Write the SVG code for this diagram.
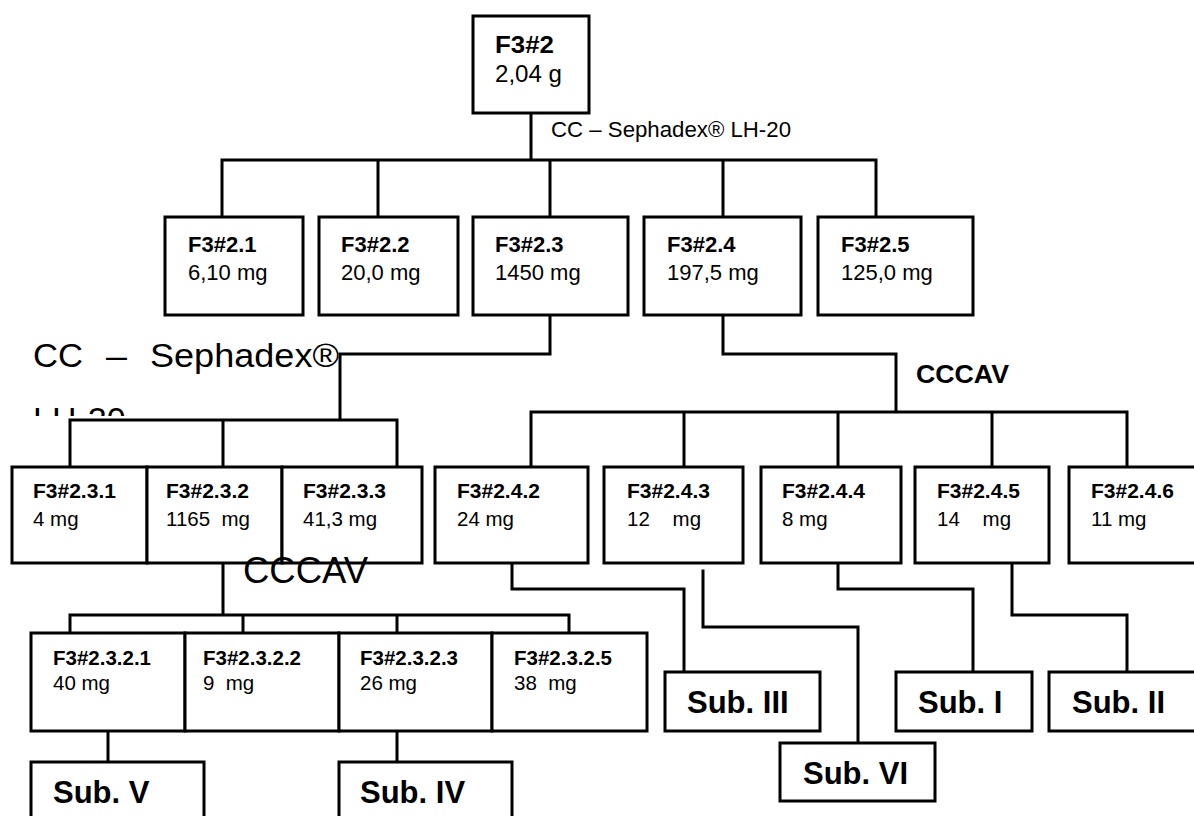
<svg xmlns="http://www.w3.org/2000/svg" width="1194" height="816" viewBox="0 0 1194 816">
<style>
  .box{fill:#fff;stroke:#000;stroke-width:3}
  .ln{fill:none;stroke:#000;stroke-width:3;stroke-linejoin:miter;stroke-linecap:square}
  text{font-family:"Liberation Sans",Arial,sans-serif;fill:#000;white-space:pre}
  .b22{font-weight:bold;font-size:22px}
  .r22{font-size:22px}
  .b21{font-weight:bold;font-size:21px}
  .r20{font-size:20.5px}
  .sub{font-weight:bold;font-size:31px}
  .big{font-size:34px}
</style>
<defs>
  <clipPath id="clipLH"><rect x="0" y="380" width="300" height="36"/></clipPath>
</defs>
<rect width="1194" height="816" fill="#fff"/>

<g id="connectors">
  <path class="ln" d="M531,113 V160 M222,160 H876 M222,160 V217 M378,160 V217 M550,160 V217 M723,160 V217 M876,160 V217"/>
  <path class="ln" d="M550,315 V354 H340 V420 M70,420 H397 M70,420 V467 M223,420 V467 M397,420 V467"/>
  <path class="ln" d="M723,315 V354 H896 V412 M531,412 H1127 M531,412 V467 M684,412 V467 M838,412 V467 M992,412 V467 M1127,412 V467"/>
  <path class="ln" d="M223,557 V615 M70,615 H569 M70,615 V633 M243,615 V633 M397,615 V633 M569,615 V633"/>
  <path class="ln" d="M108,731 V762 M397,731 V762"/>
  <path class="ln" d="M512,558 V589 H684 V672"/>
  <path class="ln" d="M703,571 V627 H858 V743"/>
  <path class="ln" d="M838,558 V589 H973 V672"/>
  <path class="ln" d="M1012,558 V615 H1127 V672"/>
</g>

<g id="label-cc1"><text class="r22" x="551" y="137" textLength="240" lengthAdjust="spacingAndGlyphs">CC – Sephadex® LH-20</text></g>
<g id="label-cc2">
  <text class="big" x="33" y="367" textLength="50" lengthAdjust="spacingAndGlyphs">CC</text>
  <text class="big" x="106" y="367" textLength="21" lengthAdjust="spacingAndGlyphs">–</text>
  <text class="big" x="150" y="367" textLength="189" lengthAdjust="spacingAndGlyphs">Sephadex®</text>
  <text class="big" x="33" y="431" clip-path="url(#clipLH)">LH-20</text>
</g>
<g id="label-cccav1"><text x="916" y="383" font-size="26" font-weight="bold" textLength="93" lengthAdjust="spacingAndGlyphs">CCCAV</text></g>

<g id="n-F3-2"><rect class="box" x="473" y="16" width="116" height="97"/>
  <text x="495" y="53" font-size="23" font-weight="bold" textLength="59" lengthAdjust="spacingAndGlyphs">F3#2</text><text x="495" y="82" font-size="23.5" textLength="67" lengthAdjust="spacingAndGlyphs">2,04 g</text></g>

<g id="n-F3-2-1"><rect class="box" x="165" y="217" width="138" height="98"/>
  <text class="b22" x="188" y="252">F3#2.1</text><text class="r22" x="188" y="280">6,10 mg</text></g>
<g id="n-F3-2-2"><rect class="box" x="319" y="217" width="139" height="98"/>
  <text class="b22" x="341" y="252">F3#2.2</text><text class="r22" x="341" y="280">20,0 mg</text></g>
<g id="n-F3-2-3"><rect class="box" x="473" y="217" width="155" height="98"/>
  <text class="b22" x="495" y="252">F3#2.3</text><text class="r22" x="495" y="280">1450 mg</text></g>
<g id="n-F3-2-4"><rect class="box" x="644" y="217" width="157" height="98"/>
  <text class="b22" x="667" y="252">F3#2.4</text><text class="r22" x="667" y="280">197,5 mg</text></g>
<g id="n-F3-2-5"><rect class="box" x="818" y="217" width="155" height="98"/>
  <text class="b22" x="841" y="252">F3#2.5</text><text class="r22" x="841" y="280">125,0 mg</text></g>

<g id="n-F3-2-3-1"><rect class="box" x="12" y="467" width="135" height="96"/>
  <text class="b21" x="33" y="498">F3#2.3.1</text><text class="r20" x="33" y="526">4 mg</text></g>
<g id="n-F3-2-3-2"><rect class="box" x="147" y="467" width="135" height="96"/>
  <text class="b21" x="166" y="498">F3#2.3.2</text><text class="r20" x="166" y="526">1165  mg</text></g>
<g id="n-F3-2-3-3"><rect class="box" x="282" y="467" width="140" height="96"/>
  <text class="b21" x="303" y="498">F3#2.3.3</text><text class="r20" x="303" y="526">41,3 mg</text></g>

<g id="n-F3-2-4-2"><rect class="box" x="435" y="467" width="153" height="96"/>
  <text class="b21" x="457" y="498">F3#2.4.2</text><text class="r20" x="457" y="526">24 mg</text></g>
<g id="n-F3-2-4-3"><rect class="box" x="604" y="467" width="139" height="96"/>
  <text class="b21" x="627" y="498">F3#2.4.3</text><text class="r20" x="627" y="526">12    mg</text></g>
<g id="n-F3-2-4-4"><rect class="box" x="761" y="467" width="140" height="96"/>
  <text class="b21" x="782" y="498">F3#2.4.4</text><text class="r20" x="782" y="526">8 mg</text></g>
<g id="n-F3-2-4-5"><rect class="box" x="915" y="467" width="134" height="96"/>
  <text class="b21" x="937" y="498">F3#2.4.5</text><text class="r20" x="937" y="526">14    mg</text></g>
<g id="n-F3-2-4-6"><rect class="box" x="1069" y="467" width="135" height="96"/>
  <text class="b21" x="1091" y="498">F3#2.4.6</text><text class="r20" x="1091" y="526">11 mg</text></g>

<g id="label-cccav2"><text x="243" y="583" font-size="36" textLength="125" lengthAdjust="spacingAndGlyphs">CCCAV</text></g>

<g id="n-F3-2-3-2-1"><rect class="box" x="31" y="633" width="154" height="98"/>
  <text class="b21" x="53" y="665" style="font-size:20.5px">F3#2.3.2.1</text><text class="r20" x="53" y="690">40 mg</text></g>
<g id="n-F3-2-3-2-2"><rect class="box" x="185" y="633" width="154" height="98"/>
  <text class="b21" x="203" y="665" style="font-size:20.5px">F3#2.3.2.2</text><text class="r20" x="203" y="690">9  mg</text></g>
<g id="n-F3-2-3-2-3"><rect class="box" x="339" y="633" width="153" height="98"/>
  <text class="b21" x="360" y="665" style="font-size:20.5px">F3#2.3.2.3</text><text class="r20" x="360" y="690">26 mg</text></g>
<g id="n-F3-2-3-2-5"><rect class="box" x="492" y="633" width="155" height="98"/>
  <text class="b21" x="514" y="665" style="font-size:20.5px">F3#2.3.2.5</text><text class="r20" x="514" y="690">38  mg</text></g>

<g id="n-sub-V"><rect class="box" x="31" y="762" width="173" height="60"/>
  <text class="sub" x="53" y="803">Sub. V</text></g>
<g id="n-sub-IV"><rect class="box" x="339" y="762" width="173" height="60"/>
  <text class="sub" x="360" y="803">Sub. IV</text></g>
<g id="n-sub-III"><rect class="box" x="665" y="672" width="155" height="59"/>
  <text class="sub" x="687" y="713">Sub. III</text></g>
<g id="n-sub-VI"><rect class="box" x="780" y="743" width="155" height="58"/>
  <text class="sub" x="803" y="784">Sub. VI</text></g>
<g id="n-sub-I"><rect class="box" x="896" y="672" width="136" height="59"/>
  <text class="sub" x="918" y="713">Sub. I</text></g>
<g id="n-sub-II"><rect class="box" x="1049" y="672" width="155" height="59"/>
  <text class="sub" x="1072" y="713">Sub. II</text></g>
</svg>
